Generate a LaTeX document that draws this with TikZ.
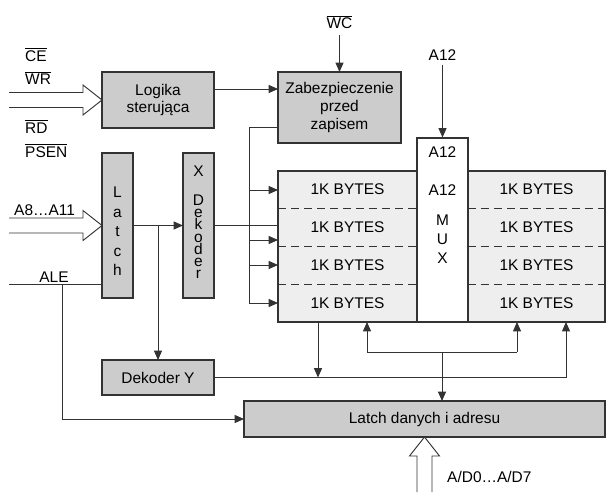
\documentclass[tikz,border=0pt]{standalone}
\usepackage{fontspec}
\setmainfont{Liberation Sans}
\usepackage{tikz}
\usetikzlibrary{positioning,arrows.meta,calc}
\usepackage{xcolor}
\definecolor{wire}{HTML}{333333}
\definecolor{blockfill}{HTML}{CCCCCC}
\definecolor{memfill}{HTML}{EEEEEE}
\newlength\pxu
\setlength\pxu{0.03cm}
\tikzset{
  block/.style={draw=wire,fill=blockfill,line width=0.9pt,inner sep=0pt,outer sep=0pt,align=center},
  membank/.style={draw=wire,fill=memfill,line width=0.9pt,inner sep=0pt,outer sep=0pt},
  wireline/.style={draw=wire,line width=0.8pt},
  sig/.style={wireline,-{Triangle[length=2.8mm,width=2.4mm]}},
  busline/.style={draw=wire,line width=0.8pt},
  rowsep/.style={draw=wire,line width=0.6pt,dash pattern=on 2.4mm off 1.5mm},
  lbl/.style={inner sep=0pt}
}
% hollow bus arrow: tip, rotation, length
\newcommand{\busin}[3]{%
  \draw[busline,shift={(#1)},rotate=#2] (-#3,-7.5) -- (-19,-7.5) -- (-19,-15) -- (0,0) -- (-19,15) -- (-19,7.5) -- (-#3,7.5);}

\begin{document}
\begin{tikzpicture}[x=0.03cm,y=-0.03cm,font=\fontsize{13.2}{15}\selectfont]
  \useasboundingbox (0,0) rectangle (613,492);

  % blocks
  \node[block,minimum width=112\pxu,minimum height=56\pxu] (logic) at (158,100) {Logika\\sterująca};
  \node[block,minimum width=123\pxu,minimum height=71\pxu] (zab) at (339.5,107.5) {Zabezpieczenie\\przed\\zapisem};
  \node[block,minimum width=31\pxu,minimum height=145\pxu] (latch) at (117.5,225.5) {};
  \node[block,minimum width=31\pxu,minimum height=145\pxu] (xdec) at (198.5,225.5) {};
  \node[block,minimum width=112\pxu,minimum height=35\pxu] (ydec) at (158,377.5) {Dekoder Y};
  \node[block,minimum width=361\pxu,minimum height=36\pxu] (ldat) at (424.5,419) {Latch danych i adresu};

  \foreach \ch [count=\i,evaluate=\i as \yy using 178+19.5*\i] in {L,a,t,c,h}
    \node[lbl,anchor=base] at (latch.north |- 0,\yy) {\ch};
  \node[lbl,anchor=base] (xlab) at (xdec.north |- 0,176.5) {X};
  \foreach \ch [count=\i,evaluate=\i as \yy using 193.2+12.2*\i] in {D,e,k,o,d,e,r}
    \node[lbl,anchor=base] at (xdec.north |- 0,\yy) {\ch};

  % memory
  \node[membank,minimum width=139\pxu,minimum height=151\pxu] (memL) at (347.5,246.5) {};
  \node[membank,minimum width=137\pxu,minimum height=151\pxu] (memR) at (536.5,246.5) {};
  \foreach \yy in {208,246,284} {
    \draw[rowsep] (memL.west |- 0,\yy) -- (memL.east |- 0,\yy);
    \draw[rowsep] (memR.west |- 0,\yy) -- (memR.east |- 0,\yy);
  }
  \foreach \yy [count=\i] in {189.5,227,265,303} {
    \node (bl\i) at (memL |- 0,\yy) {1K BYTES};
    \node (br\i) at (memR |- 0,\yy) {1K BYTES};
  }
  \node[draw=wire,fill=white,line width=0.9pt,inner sep=0pt,minimum width=51\pxu,minimum height=184\pxu] (mux) at (442.5,230) {};
  \node (muxa) at (mux |- 0,152) {A12};
  \node (muxb) at (mux |- 0,190) {A12};
  \foreach \ch [count=\i,evaluate=\i as \yy using 201+19*\i] in {M,U,X}
    \node (mux\i) at (mux |- 0,\yy) {\ch};

  % labels
  \node[lbl,anchor=base west] (ce) at (25,61) {$\overline{\mbox{CE}}$};
  \node[lbl,anchor=base west] (wr) at (25,84.5) {$\overline{\mbox{WR}}$};
  \node[lbl,anchor=base west] (rd) at (25,133) {$\overline{\mbox{RD}}$};
  \node[lbl,anchor=base west] (psen) at (25,157) {$\overline{\mbox{PSEN}}$};
  \node[lbl,anchor=base] (wc) at (339.5,28.7) {$\overline{\mbox{WC}}$};
  \node[lbl,anchor=base] (a12in) at (442.5,60.4) {A12};
  \node[lbl,anchor=base west] (abus) at (14,215) {A8…A11};
  \node[lbl,anchor=base] (ale) at (54,282.5) {ALE};
  \node[lbl,anchor=base west] (adbus) at (447,482) {A/D0…A/D7};

  % buses
  \busin{logic.west}{0}{93}
  \busin{latch.west}{0}{93}
  \busin{ldat.south}{90}{55}

  % connections
  \draw[sig] ([yshift=11\pxu]logic.east) coordinate (lz) -- (lz -| zab.west);
  \draw[sig] ([yshift=-6\pxu]wc.south) -- (zab.north);
  \draw[sig] ([yshift=-4\pxu]a12in.south) -- (mux.north);
  \draw[wireline] ([yshift=-19.5\pxu]zab.west) -| (249,303);
  \foreach \yy in {190,240,265,303}
    \draw[sig] (249,\yy) -- (memL.west |- 0,\yy);
  \draw[sig] (latch.east) -- (xdec.west);
  \draw[sig] (latch.east -| ydec.north) -- (ydec.north);
  \draw[wireline] (xdec.east) -- (xdec.east -| memL.west);
  \coordinate (alein) at (9,284);
  \draw[wireline] (alein) -- (alein -| latch.west);
  \draw[sig] (alein -| 62,0) |- (ldat.west);
  \draw[sig] (ydec.east) -| (memR.south -| 566,0);
  \draw[sig] (memL.south -| 318,0) -- (ydec.east -| 318,0);
  \coordinate (dbus) at (442,352);
  \draw[wireline] (dbus -| 367,0) -- (dbus -| 517,0);
  \draw[sig] (dbus -| 367,0) -- (memL.south -| 367,0);
  \draw[sig] (dbus -| 517,0) -- (memR.south -| 517,0);
  \draw[sig] (dbus) -- (dbus |- ldat.north);
\end{tikzpicture}
\end{document}
